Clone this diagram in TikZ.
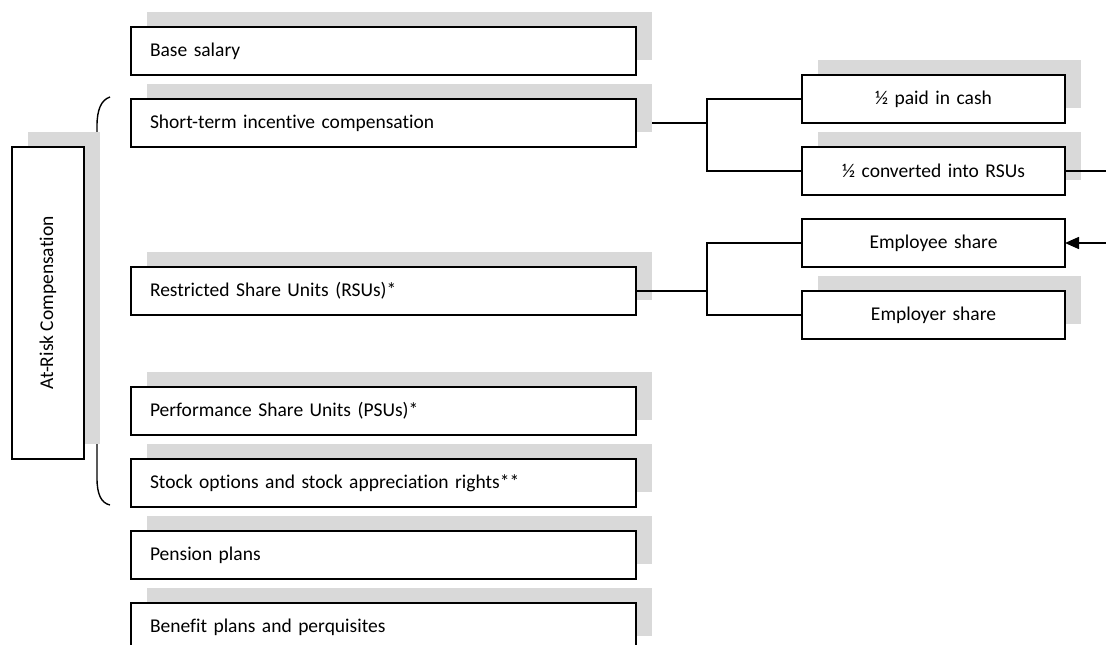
\documentclass[tikz,border=0pt]{standalone}
\usepackage{fontspec}
\setmainfont{Carlito}[Ligatures=NoCommon]
\usetikzlibrary{arrows.meta,calc}
\definecolor{shadowgray}{RGB}{217,217,217}
\pgfdeclarelayer{bg}
\pgfdeclarelayer{shd}
\pgfsetlayers{bg,shd,main}
\tikzset{
  box/.style={draw=black, fill=white, line width=1.9pt, outer sep=0pt, minimum height=48pt, font=\fontsize{19.5}{23}\selectfont},
  lbox/.style={box, anchor=north west, text width=467pt, inner xsep=19pt, inner ysep=0pt, align=left, minimum width=505pt},
  rbox/.style={box, anchor=north west, text width=247pt, inner xsep=8pt, inner ysep=0pt, align=center, minimum width=263pt},
  conn/.style={draw=black, line width=1.6pt},
  shadowfill/.style={fill=shadowgray},
}
\begin{document}
\begin{tikzpicture}[x=1pt,y=-1pt]
\useasboundingbox (0,0) rectangle (1106,645);
% left column
\node[lbox] (base)  at (131,27)  {Base salary};
\node[lbox] (short) at (131,99)  {Short-term incentive compensation};
\node[lbox] (rsu)   at (131,267) {Restricted Share Units (RSUs)*};
\node[lbox] (psu)   at (131,387) {Performance Share Units (PSUs)*};
\node[lbox] (stock) at (131,459) {Stock options and stock appreciation rights**};
\node[lbox] (pens)  at (131,531) {Pension plans};
\node[lbox] (ben)   at (131,603) {Benefit plans and perquisites};
% right column
\node[rbox] (cash) at (802,75)  {½ paid in cash};
\node[rbox] (conv) at (802,147) {½ converted into RSUs};
\node[rbox] (emp)  at (802,219) {Employee share};
\node[rbox] (empr) at (802,291) {Employer share};
% at-risk box
\node[box, rotate=90, minimum width=312pt, minimum height=72pt, inner sep=0pt] (risk) at (48,303) {At-Risk Compensation};
% background: brace and hidden connector
\begin{pgfonlayer}{bg}
  \draw[line width=1.4pt] (110,97) .. controls (101,100) and (97,110) .. (97,126) -- (97,478)
        .. controls (97,494) and (101,503) .. (110,505);
  \draw[conn] (short.east) -- ++(71,0) coordinate (j1);
\end{pgfonlayer}
% shadows
\begin{pgfonlayer}{shd}
  \foreach \n in {base,short,rsu,psu,stock,pens,ben,cash,conv,empr,risk}{
    \fill[shadowfill] ([shift={(16,-15)}]\n.south west) rectangle ([shift={(16,-15)}]\n.north east);
  }
\end{pgfonlayer}
% connectors
\draw[conn] (cash.west) -- (cash.west -| j1) -- (conv.west -| j1) -- (conv.west);
\draw[conn] (rsu.east) -- ++(71,0) coordinate (j2);
\draw[conn] (emp.west) -- (emp.west -| j2) -- (empr.west -| j2) -- (empr.west);
\coordinate (out1) at (1110,171);
\coordinate (in1) at (1110,243);
\draw[conn] (conv.east) -- (out1);
\draw[conn, -{Triangle[length=14pt,width=12pt]}] (in1) -- (emp.east);
\end{tikzpicture}
\end{document}
